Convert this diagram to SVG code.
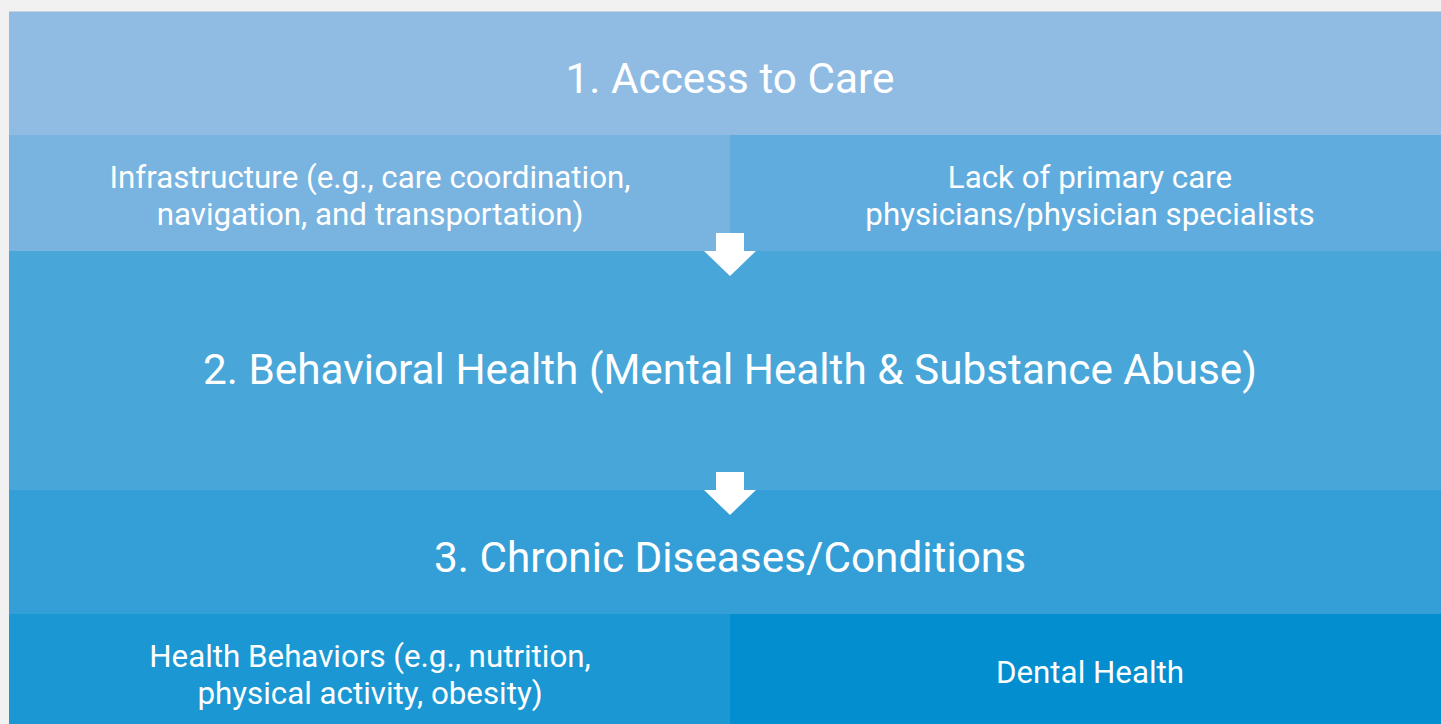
<svg xmlns="http://www.w3.org/2000/svg" width="1441" height="724" viewBox="0 0 1441 724">
<style>
.t{font-family:Roboto,"Liberation Sans",sans-serif;fill:#ffffff;text-anchor:middle}
.big{font-size:42.3px}
.sm{font-size:31.3px}
</style>
<rect x="0" y="0" width="1441" height="724" fill="#f0f1f0"/>
<g id="access">
<rect x="9" y="11" width="1451" height="124" fill="#90bce4"/>
<rect x="9" y="11" width="1451" height="1" fill="#c9d3dc"/>
<text class="t big" x="730" y="93">1. Access to Care</text>
</g>
<g id="infrastructure">
<rect x="9" y="135" width="721" height="116" fill="#79b3e0"/>
<text class="t sm" x="370" y="188">Infrastructure (e.g., care coordination,</text>
<text class="t sm" x="370" y="225">navigation, and transportation)</text>
</g>
<g id="primary-care">
<rect x="730" y="135" width="730" height="116" fill="#60acde"/>
<text class="t sm" x="1090" y="188">Lack of primary care</text>
<text class="t sm" x="1090" y="225">physicians/physician specialists</text>
</g>
<g id="behavioral">
<rect x="9" y="251" width="1451" height="239" fill="#48a6d9"/>
<text class="t big" x="730" y="384">2. Behavioral Health (Mental Health &amp; Substance Abuse)</text>
</g>
<g id="chronic">
<rect x="9" y="490" width="1451" height="124" fill="#349ed7"/>
<text class="t big" x="730" y="572">3. Chronic Diseases/Conditions</text>
</g>
<g id="health-behaviors">
<rect x="9" y="614" width="721" height="110" fill="#1b97d3"/>
<text class="t sm" x="370" y="667">Health Behaviors (e.g., nutrition,</text>
<text class="t sm" x="370" y="704">physical activity, obesity)</text>
</g>
<g id="dental">
<rect x="730" y="614" width="730" height="110" fill="#038ecf"/>
<text class="t sm" x="1090" y="683">Dental Health</text>
</g>
<g id="connectors" fill="#ffffff">
<polygon points="716,233 744,233 744,251 756,251 730,276 704,251 716,251"/>
<polygon points="716,472 744,472 744,490 756,490 730,515 704,490 716,490"/>
</g>
</svg>
